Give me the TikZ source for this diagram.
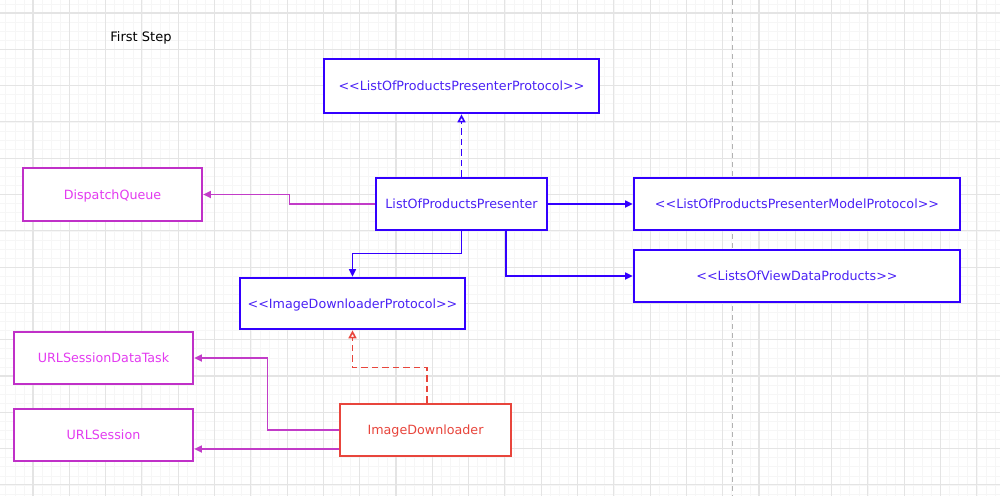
\documentclass[tikz,border=0pt]{standalone}
\usepackage{fontspec}
\setmainfont{DejaVu Sans}
\usetikzlibrary{arrows.meta,calc}
\definecolor{bblue}{HTML}{3300FF}
\definecolor{tblue}{HTML}{4A22F5}
\definecolor{mborder}{HTML}{C030C8}
\definecolor{mtext}{HTML}{E33BF0}
\definecolor{mline}{HTML}{C23CC8}
\definecolor{rred}{HTML}{E8453C}
\definecolor{gmajor}{HTML}{E4E4E4}
\definecolor{gminor}{HTML}{F6F6F6}
\tikzset{
  box/.style={draw, line width=2.7pt, fill=white, inner sep=0pt, text height=9.3pt, text depth=-0.6pt, font=\fontsize{12.7}{14}\selectfont},
  bluebox/.style={box, draw=bblue, text=tblue},
  magbox/.style={box, draw=mborder, text=mtext},
  redbox/.style={box, draw=rred, text=rred},
  conn/.style={line width=1.6pt, -{Triangle[width=7pt,length=7.5pt]}},
  real/.style={line width=1.6pt, dash pattern=on 6.5pt off 4pt, -{Triangle[open,width=8pt,length=8pt]}},
}
\begin{document}
\begin{tikzpicture}[x=1pt,y=-1pt]
\useasboundingbox (0,0) rectangle (1000,496);
\fill[white] (0,0) rectangle (1000,496);
% grid
\foreach \i in {0,...,111} {\draw[gminor, line width=0.6pt] ({-3.3+9.075*\i},0) -- ({-3.3+9.075*\i},496);}
\foreach \i in {0,...,57} {\draw[gminor, line width=0.6pt] (0,{-23.3+9.075*\i}) -- (1000,{-23.3+9.075*\i});}
\foreach \i in {0,...,28} {\draw[gmajor, line width=1.1pt] ({-3.3+36.3*\i},0) -- ({-3.3+36.3*\i},496);}
\foreach \i in {0,...,14} {\draw[gmajor, line width=1.1pt] (0,{-23.3+36.3*\i}) -- (1000,{-23.3+36.3*\i});}
\coordinate (dtop) at (732,0);
\coordinate (dbot) at (732,496);
\draw[black!30, line width=1pt, dash pattern=on 5pt off 4pt] (dtop) -- (dbot);

\node[font=\fontsize{13}{15}\selectfont, text=black] (title) at (141,38) {First Step};

\node[bluebox, minimum width=275pt, minimum height=54pt] (proto) at (461.5,86) {<{}<ListOfProductsPresenterProtocol>{}>};
\node[magbox, minimum width=179pt, minimum height=53pt] (dq) at (112.5,194.5) {DispatchQueue};
\node[bluebox, minimum width=171pt, minimum height=52pt] (pres) at (461.5,204) {ListOfProductsPresenter};
\node[bluebox, minimum width=326pt, minimum height=52pt] (model) at (797,204) {<{}<ListOfProductsPresenterModelProtocol>{}>};
\node[bluebox, minimum width=326pt, minimum height=52pt] (views) at (797,276) {<{}<ListsOfViewDataProducts>{}>};
\node[bluebox, minimum width=225pt, minimum height=51pt] (idp) at (352.5,303.5) {<{}<ImageDownloaderProtocol>{}>};
\node[magbox, minimum width=179pt, minimum height=52pt] (udt) at (103.5,358) {URLSessionDataTask};
\node[magbox, minimum width=179pt, minimum height=52pt] (us) at (103.5,435) {URLSession};
\node[redbox, minimum width=171pt, minimum height=52pt] (id) at (425.5,430) {ImageDownloader};

% connectors
\draw[real, bblue] (pres.north) -- (proto.south);
\draw[conn, mline] (pres.west) -- ++(-85,0) |- (dq.east);
\draw[conn, bblue] (pres.east) -- (model.west);
\draw[conn, bblue] (pres.south) -- ++(0,22) -| (idp.north);
\coordinate (ps2) at ([xshift=44.5pt]pres.south);
\draw[conn, bblue] (ps2) |- (views.west);
\coordinate (idn) at ([xshift=1.5pt]id.north);
\draw[real, rred] (idn) -- ++(0,-35) -| (idp.south);
\draw[conn, mline] (id.west) -- ++(-71,0) |- (udt.east);
\coordinate (idw2) at ([yshift=-19pt]id.west);
\draw[conn, mline] (idw2) -- (idw2 -| us.east);
\end{tikzpicture}
\end{document}
